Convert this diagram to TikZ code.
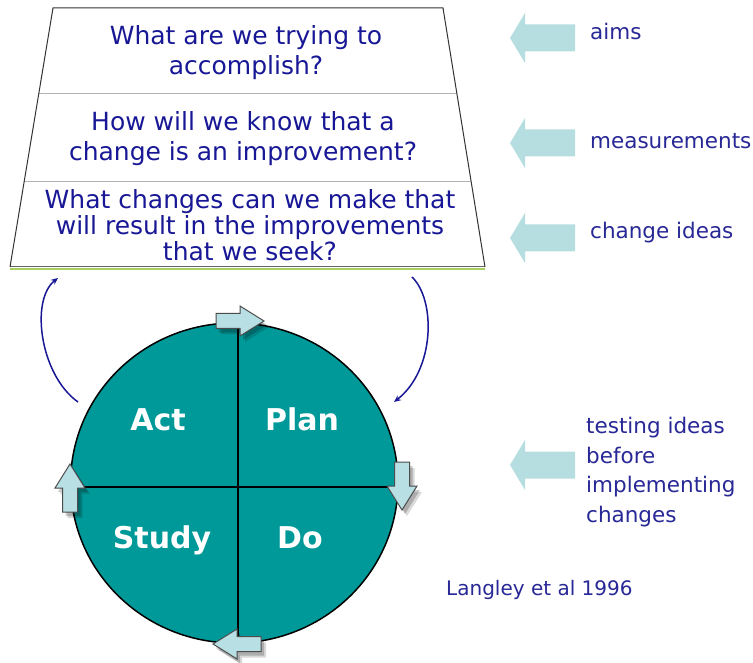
\documentclass[tikz,border=0pt]{standalone}
\usepackage{fontspec}
\setmainfont{DejaVu Sans}
\usetikzlibrary{calc,arrows.meta}
\definecolor{navy}{RGB}{24,24,150}
\definecolor{labelblue}{RGB}{40,40,150}
\definecolor{pdsa}{RGB}{0,153,153}
\definecolor{pale}{RGB}{182,222,224}
\definecolor{smallfill}{RGB}{184,224,228}
\definecolor{edgegreen}{RGB}{168,208,96}

\newcommand\pdsaarrow[3]{%
  \begin{scope}[shift={(#1,#2)}]
    \fill[black,opacity=.15,shift={(5,6)},rotate=#3] (-24,-7.5) -- (0,-7.5) -- (0,-15) -- (24,0) -- (0,15) -- (0,7.5) -- (-24,7.5) -- cycle;
    \fill[black,opacity=.2,shift={(3,4)},rotate=#3] (-24,-7.5) -- (0,-7.5) -- (0,-15) -- (24,0) -- (0,15) -- (0,7.5) -- (-24,7.5) -- cycle;
    \filldraw[smallarrow,rotate=#3] (-24,-7.5) -- (0,-7.5) -- (0,-15) -- (24,0) -- (0,15) -- (0,7.5) -- (-24,7.5) -- cycle;
  \end{scope}}

\newcommand\sidearrow[1]{%
  \fill[bigarrow] (510,#1) -- (525,{#1-25}) -- (525,{#1-13.5}) -- (575,{#1-13.5})
    -- (575,{#1+13.5}) -- (525,{#1+13.5}) -- (525,{#1+25}) -- cycle;}

\begin{document}
\begin{tikzpicture}[x=1pt,y=-1pt,
  question/.style={text=navy, align=center, inner sep=0pt},
  sidelabel/.style={text=labelblue, anchor=base west, inner sep=0pt, align=left,
                    font=\fontsize{21.5}{29.5}\selectfont},
  phase/.style={text=white, anchor=base, inner sep=0pt,
                font=\fontsize{30}{36}\selectfont\bfseries},
  bigarrow/.style={fill=pale, draw=none},
  smallarrow/.style={fill=smallfill, draw=black!70, line width=1pt, line join=miter},
  loop/.style={draw=navy, line width=1.5pt, -{Stealth[length=7pt,width=6pt]}}
]
\useasboundingbox (0,0) rectangle (753,663);
\fill[white] (0,0) rectangle (753,663);

% ---------- trapezoid of questions ----------
\coordinate (tl) at (53,8);
\coordinate (tr) at (443,8);
\coordinate (br) at (485,267);
\coordinate (bl) at (10,267);
\draw[black!60, line width=1pt] (bl) -- (br);
\draw[edgegreen, line width=2pt] ($(bl)+(0,2)$) -- ($(br)+(0,2)$);
\draw[gray!60, line width=1pt] ($(tl)!0.329!(bl)$) -- ($(tr)!0.329!(br)$);
\draw[gray!60, line width=1pt] ($(tl)!0.668!(bl)$) -- ($(tr)!0.668!(br)$);
\draw[black!80, line width=1pt] (bl) -- (tl) -- (tr) -- (br);

\node[question, font=\fontsize{25}{30}\selectfont] (q1) at (246,53)
  {What are we trying to\\accomplish?};
\node[question, font=\fontsize{25}{30}\selectfont] (q2) at (243,138.5)
  {How will we know that a\\change is an improvement?};
\node[question, font=\fontsize{25}{26}\selectfont] (q3) at (250,225.5)
  {What changes can we make that\\will result in the improvements\\that we seek?};

% ---------- side arrows and labels ----------
\sidearrow{38}
\sidearrow{143}
\sidearrow{238}
\sidearrow{465}
\node[sidelabel] (aims) at (590,39.5) {aims};
\node[sidelabel] (meas) at (590,149) {measurements};
\node[sidelabel] (ideas) at (590,239) {change ideas};
\node[sidelabel] (test) at (586,522) {testing ideas\\before\\implementing\\changes};
\node[text=labelblue, anchor=base west, inner sep=0pt, font=\fontsize{20}{24}\selectfont]
  (ref) at (446,595) {Langley et al 1996};

% ---------- PDSA circle ----------
\filldraw[fill=pdsa, draw=black, line width=1.5pt] (234.3,483) ellipse [x radius=163.7pt, y radius=160pt];
\begin{scope}
  \clip (234.3,483) ellipse [x radius=163.7pt, y radius=160pt];
  \draw[black, line width=1.5pt] (238,300) -- (238,670);
  \draw[black, line width=1.5pt] (50,487) -- (420,487);
\end{scope}
\node[phase] (act) at (158,430) {Act};
\node[phase] (plan) at (302,430) {Plan};
\node[phase] (study) at (162,548) {Study};
\node[phase] (do) at (300,548) {Do};

\pdsaarrow{240}{321}{0}
\pdsaarrow{402}{486}{-90}
\pdsaarrow{237}{644}{180}
\pdsaarrow{70}{488}{90}

% ---------- loop arrows ----------
\coordinate (lstart) at (78,402);
\coordinate (lend) at (58,278);
\coordinate (rstart) at (412,277);
\coordinate (rend) at (394,402);
\draw[loop] (lstart) .. controls (40,375) and (30,300) .. (lend);
\draw[loop] (rstart) .. controls (436,300) and (435,370) .. (rend);
\end{tikzpicture}
\end{document}
